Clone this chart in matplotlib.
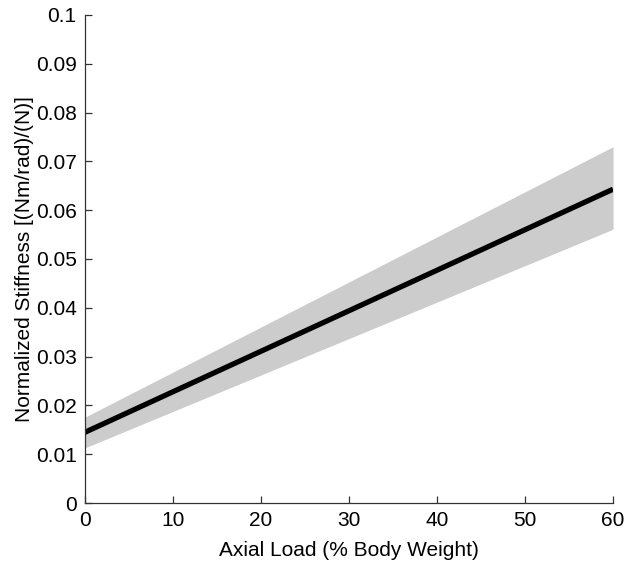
import matplotlib
matplotlib.use("Agg")
import matplotlib.pyplot as plt

# values (linear fit, so endpoints are enough)
load = [0, 60]
stiffness = [0.0145, 0.0643]
ci_lower = [0.0113, 0.0561]
ci_upper = [0.0176, 0.0730]

plt.rcParams['font.family'] = ['Liberation Sans', 'DejaVu Sans']

fig = plt.figure(figsize=(6.27, 5.65), dpi=100)
ax = fig.add_axes([0.1356, 0.1097, 0.8421, 0.8638])

ax.fill_between(load, ci_lower, ci_upper, color='#cccccc', linewidth=0)
ax.plot(load, stiffness, color='black', linewidth=3.8, solid_capstyle='butt')

ax.set_xlim(0, 60)
ax.set_ylim(0, 0.1)
ax.set_xticks(range(0, 61, 10))
ax.set_yticks([i / 100 for i in range(11)])
ax.set_yticklabels(['0'] + ['%g' % (i / 100) for i in range(1, 11)])

for s in ['top', 'right']:
    ax.spines[s].set_visible(False)
for s in ['left', 'bottom']:
    ax.spines[s].set_color('#333333')
    ax.spines[s].set_linewidth(0.9)
ax.tick_params(direction='in', length=5, width=0.9, color='#333333', labelsize=15, pad=6)

ax.set_xlabel('Axial Load (% Body Weight)', fontsize=15, labelpad=8)
ax.set_ylabel('Normalized Stiffness [(Nm/rad)/(N)]', fontsize=15, labelpad=1)

fig.savefig('out.png', dpi=100)
